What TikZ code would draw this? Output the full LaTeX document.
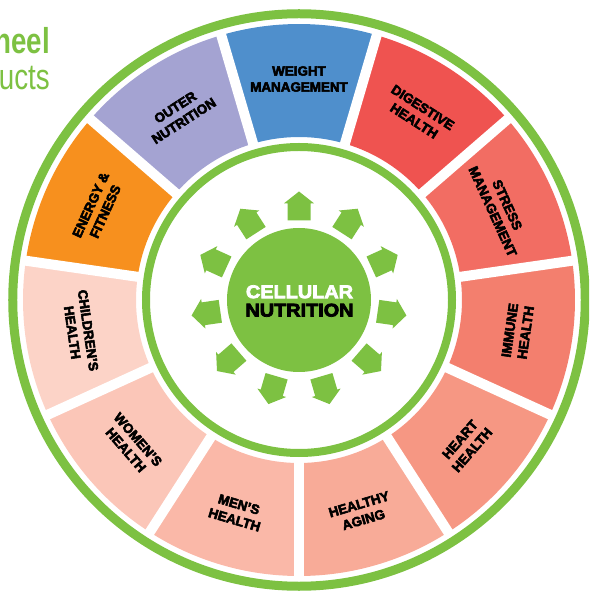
\documentclass[tikz,border=0pt]{standalone}
\usepackage{fontspec}
\setmainfont{Liberation Sans}
\newfontfamily\labfont[FakeBold=4]{Liberation Sans Bold}
\newfontfamily\cellfont[FakeStretch=1.08, FakeBold=4]{Liberation Sans Bold}
\newfontfamily\titlefont[FakeStretch=0.77]{Liberation Sans}
\definecolor{cgreen}{HTML}{7DC142}
\definecolor{c0}{HTML}{4F8FCC}
\definecolor{c1}{HTML}{EF5350}
\definecolor{c2}{HTML}{F26D63}
\definecolor{c3}{HTML}{F37F6E}
\definecolor{c4}{HTML}{F69783}
\definecolor{c5}{HTML}{F8AB98}
\definecolor{c6}{HTML}{FAB8A8}
\definecolor{c7}{HTML}{FBC6B8}
\definecolor{c8}{HTML}{FCD3C7}
\definecolor{c9}{HTML}{F7901E}
\definecolor{c10}{HTML}{A4A3D2}
\tikzset{
  seglabel/.style={inner sep=0pt, align=center, text=black,
    font=\labfont\fontsize{13.4}{16}\selectfont},
  gapline/.style={draw=white, line width=10pt},
  ringline/.style={draw=cgreen},
  rayarrow/.style={fill=cgreen},
  titletext/.style={inner sep=0pt, anchor=base east, text=cgreen}
}
\begin{document}
\begin{tikzpicture}[x=1pt,y=1pt]
\useasboundingbox (-299,-291) rectangle (290,300);
\clip (-299,-291) rectangle (290,300);
% segments
\foreach \i in {0,...,10}{
  \pgfmathsetmacro\tc{90-\i*360/11}
  \pgfmathsetmacro\ts{\tc+180/11}
  \pgfmathsetmacro\te{\tc-180/11}
  \fill[fill=c\i] (\ts:163) arc[start angle=\ts, end angle=\te, radius=163]
    -- (\te:276) arc[start angle=\te, end angle=\ts, radius=276] -- cycle;
}
% gaps
\foreach \i in {0,...,10}{
  \pgfmathsetmacro\ts{90-\i*360/11+180/11}
  \path[gapline] (\ts:158) -- (\ts:281);
}
% rings
\path[ringline, line width=9pt] (0,0) circle[radius=286.25];
\path[ringline, line width=8pt] (0,0) circle[radius=153];
% center circle
\fill[cgreen] (0,0) circle[radius=72];
% arrows
\foreach \i in {0,...,10}{
  \pgfmathsetmacro\rr{-\i*360/11}
  \fill[rayarrow, rotate=\rr] (-11.5,79.5) -- (11.5,79.5) -- (11.5,96.7) -- (15,96.7)
    -- (0,108.5) -- (-15,96.7) -- (-11.5,96.7) -- cycle;
}
% labels
\foreach \i/\txt in {0/{WEIGHT\\MANAGEMENT},1/{DIGESTIVE\\HEALTH},2/{STRESS\\MANAGEMENT},
  3/{IMMUNE\\HEALTH},4/{HEART\\HEALTH},5/{HEALTHY\\AGING},6/{MEN’S\\HEALTH},
  7/{WOMEN’S\\HEALTH},8/{CHILDREN’S\\HEALTH},9/{ENERGY \&\\FITNESS},10/{OUTER\\NUTRITION}}{
  \pgfmathsetmacro\ang{\i*360/11}
  \pgfmathsetmacro\tc{90-\ang}
  \pgfmathsetmacro\rot{(\ang>90 && \ang<270) ? 180-\ang : -\ang}
  \node[seglabel, rotate=\rot] (lab\i) at (\tc:221) {\txt};
}
% center text
\node[inner sep=0pt, align=center, font=\cellfont\fontsize{18.4}{18.4}\selectfont] (cell) at (0.5,-1)
  {\textcolor{white}{CELLULAR}\\\textcolor{black}{NUTRITION}};
% title fragments
\node[titletext, font=\titlefont\bfseries\fontsize{36}{36}\selectfont] (t1) at (-249,246) {heel};
\node[titletext, font=\titlefont\fontsize{36}{36}\selectfont] (t2) at (-249,210) {ucts};
\end{tikzpicture}
\end{document}
